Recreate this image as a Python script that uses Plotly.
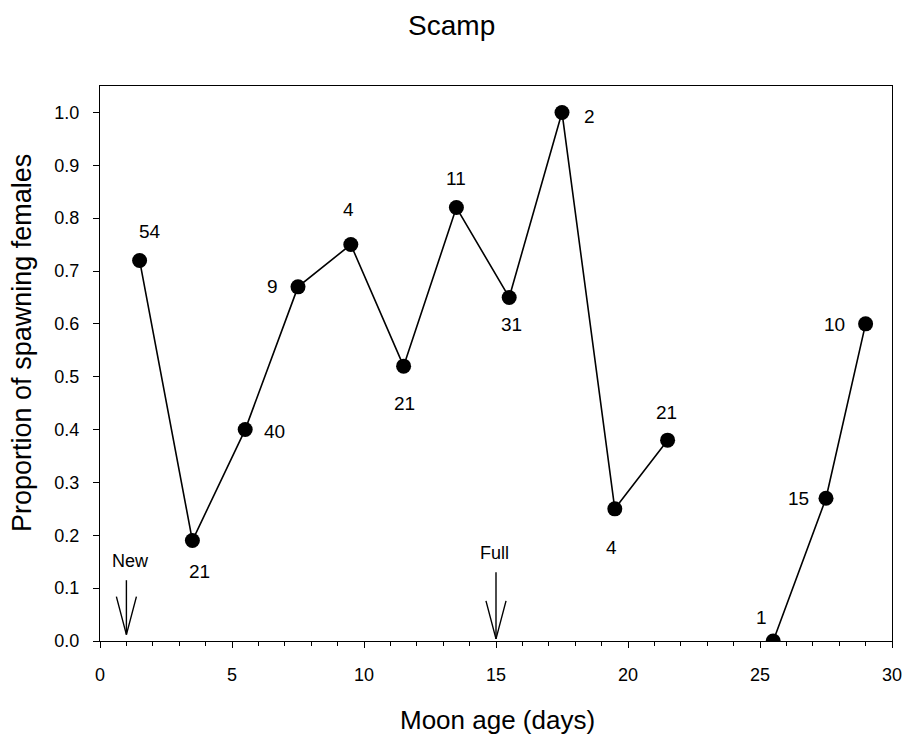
import plotly.graph_objects as go

# Data
moon_age_a = [1.5, 3.5, 5.5, 7.5, 9.5, 11.5, 13.5, 15.5, 17.5, 19.5, 21.5]
prop_a = [0.72, 0.19, 0.40, 0.67, 0.75, 0.52, 0.82, 0.65, 1.00, 0.25, 0.38]
n_a = ["54", "21", "40", "9", "4", "21", "11", "31", "2", "4", "21"]

moon_age_b = [25.5, 27.5, 29.0]
prop_b = [0.00, 0.27, 0.60]
n_b = ["1", "15", "10"]

phase_names = ["New", "Full"]
phase_days = [1, 15]
arrow_top = [0.115, 0.13]
arrow_tip = [0.012, 0.004]

# label offsets (px) for sample sizes
offs_a = [(10, 29), (7, -31), (29, -2), (-26, 0), (-2, 35), (1, -37),
          (0, 29), (2, -27), (27, -4), (-3, -39), (-1, 28)]
offs_b = [(-12, 24), (-28, 0), (-31, -1)]

font = "Arial, Liberation Sans, sans-serif"
BODY = 8  # default html body margin

fig = go.Figure()
fig.add_trace(go.Scatter(
    x=moon_age_a + [None] + moon_age_b,
    y=prop_a + [None] + prop_b,
    mode="lines+markers",
    line=dict(color="black", width=1.6),
    marker=dict(color="black", size=15),
    connectgaps=False,
    showlegend=False,
    hoverinfo="skip",
))

annotations = []
for x, y, t, (dx, dy) in zip(moon_age_a + moon_age_b, prop_a + prop_b, n_a + n_b, offs_a + offs_b):
    annotations.append(dict(x=x, y=y, text=t, showarrow=False, xshift=dx, yshift=dy,
                            font=dict(family=font, size=19, color="black")))

# moon phase arrows
head_dx = 0.38
head_dy = 0.072
for name, d, top, tip in zip(phase_names, phase_days, arrow_top, arrow_tip):
    fig.add_trace(go.Scatter(
        x=[d, d, None, d - head_dx, d, d + head_dx],
        y=[top, tip, None, tip + head_dy, tip, tip + head_dy],
        mode="lines", line=dict(color="black", width=1.4),
        showlegend=False, hoverinfo="skip"))
    annotations.append(dict(x=d, y=top, text=name, showarrow=False, yshift=19,
                            xshift=4 if name == "New" else -2,
                            font=dict(family=font, size=18, color="black")))

# axis titles as annotations for precise placement
annotations.append(dict(xref="paper", yref="paper", x=0.5025, y=0, yshift=-79,
                        text="Moon age (days)", showarrow=False, yanchor="middle",
                        font=dict(family=font, size=26, color="black")))
annotations.append(dict(xref="paper", yref="paper", x=0, xshift=-78, y=0.537,
                        text="Proportion of spawning females", showarrow=False,
                        textangle=-90, xanchor="center", yanchor="middle",
                        font=dict(family=font, size=27, color="black")))

fig.update_layout(
    width=911, height=738,
    paper_bgcolor="white", plot_bgcolor="white",
    margin=dict(l=100 - BODY, r=19 + BODY, t=86 - BODY, b=97 + BODY),
    title=dict(text="Scamp", x=0.487, xref="container", xanchor="center",
               y=0.977, yref="container", yanchor="middle",
               font=dict(family=font, size=28, color="black")),
    font=dict(family=font, size=18, color="black"),
    annotations=annotations,
)

fig.update_xaxes(
    range=[0, 30], tick0=0, dtick=5, ticks="outside", ticklen=6, tickwidth=1,
    tickcolor="black", showline=True, linecolor="black", linewidth=1.2, mirror=True,
    showgrid=False, zeroline=False, automargin=False, ticklabelstandoff=11,
    minor=dict(dtick=1, ticks="outside", ticklen=4, tickcolor="black", showgrid=False),
    tickfont=dict(family=font, size=18, color="black"),
)
fig.update_yaxes(
    range=[0, 1.05], tick0=0, dtick=0.1, tickformat=".1f", ticks="outside", ticklen=6,
    tickwidth=1, tickcolor="black", showline=True, linecolor="black", linewidth=1.2,
    mirror=True, showgrid=False, zeroline=False, automargin=False, ticklabelstandoff=10,
    tickfont=dict(family=font, size=18, color="black"),
)

fig.write_html("out.html")
